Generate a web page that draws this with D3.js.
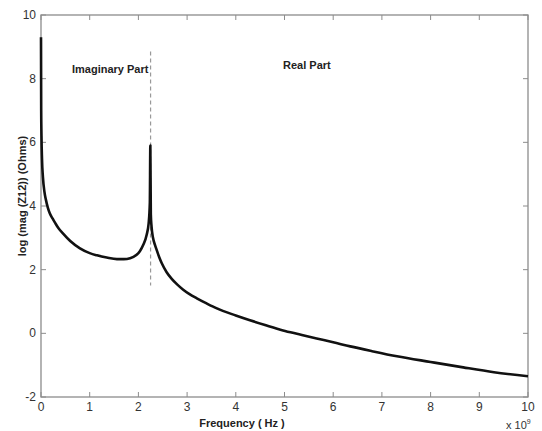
<!DOCTYPE html>
<html>
<head>
<meta charset="utf-8">
<script src="https://cdn.jsdelivr.net/npm/d3@7"></script>
<style>
  html, body { margin: 0; padding: 0; background: #fff; }
  svg { display: block; font-family: "Liberation Sans", Arial, sans-serif; }
</style>
</head>
<body>
<svg id="chart" width="542" height="431"></svg>
<script>
// frequency in units of 1e9 Hz, log magnitude of Z12
const freq = [0.0, 0.004, 0.01, 0.02, 0.04, 0.07, 0.1, 0.14, 0.18, 0.24, 0.29, 0.36, 0.45, 0.6, 0.8,
  1.0, 1.15, 1.35, 1.56, 1.7, 1.83, 1.95, 2.03, 2.1, 2.17, 2.21, 2.235, 2.245, 2.255, 2.27,
  2.3, 2.34, 2.38, 2.43, 2.48, 2.58, 2.68, 2.8, 2.92, 3.05, 3.2, 3.4, 3.6, 4.0, 4.29,
  4.6, 4.97, 5.3, 5.66, 6.0, 6.35, 6.8, 7.31, 8.0, 8.67, 9.3, 10.0];
const logMag = [9.3, 7.0, 6.2, 5.5, 4.9, 4.45, 4.2, 3.95, 3.77, 3.6, 3.47, 3.3, 3.14, 2.9, 2.67,
  2.52, 2.45, 2.38, 2.33, 2.33, 2.36, 2.45, 2.58, 2.78, 3.1, 3.45, 4.1, 5.9, 3.75, 3.35,
  3.0, 2.78, 2.6, 2.38, 2.2, 1.92, 1.72, 1.53, 1.37, 1.23, 1.1, 0.94, 0.79, 0.56, 0.41,
  0.26, 0.09, -0.03, -0.16, -0.28, -0.41, -0.56, -0.72, -0.9, -1.07, -1.22, -1.35];

const xTicks = [0, 1, 2, 3, 4, 5, 6, 7, 8, 9, 10];
const yTicks = [-2, 0, 2, 4, 6, 8, 10];

const divider = { f: 2.25, from: 1.5, to: 8.85 };

const W = 542, H = 431;
const M = { top: 15, right: 14, bottom: 34, left: 41 };

const svg = d3.select('#chart');
const axisColor = '#8c8c8c';
const textColor = '#333';

const x = d3.scaleLinear().domain([0, 10]).range([M.left, W - M.right]);
const y = d3.scaleLinear().domain([-2, 10]).range([H - M.bottom, M.top]);

// ── frame ──
svg.append('rect')
  .attr('x', x(0)).attr('y', y(10))
  .attr('width', x(10) - x(0)).attr('height', y(-2) - y(10))
  .attr('fill', 'none').attr('stroke', axisColor).attr('stroke-width', 1.3);

// ── ticks (inward on all sides) ──
const TL = 5;
const tickG = svg.append('g').attr('stroke', axisColor).attr('stroke-width', 1);
xTicks.forEach(t => {
  tickG.append('line').attr('x1', x(t)).attr('x2', x(t)).attr('y1', y(-2)).attr('y2', y(-2) - TL);
  tickG.append('line').attr('x1', x(t)).attr('x2', x(t)).attr('y1', y(10)).attr('y2', y(10) + TL);
});
yTicks.forEach(t => {
  tickG.append('line').attr('x1', x(0)).attr('x2', x(0) + TL).attr('y1', y(t)).attr('y2', y(t));
  tickG.append('line').attr('x1', x(10)).attr('x2', x(10) - TL).attr('y1', y(t)).attr('y2', y(t));
});

// ── tick labels ──
svg.append('g').selectAll('text').data(xTicks).join('text')
  .attr('x', d => x(d)).attr('y', y(-2) + 14)
  .attr('text-anchor', 'middle')
  .attr('font-size', 12).attr('fill', textColor)
  .text(d => d);

svg.append('g').selectAll('text').data(yTicks).join('text')
  .attr('x', x(0) - 5).attr('y', d => y(d) + 4)
  .attr('text-anchor', 'end')
  .attr('font-size', 12).attr('fill', textColor)
  .text(d => d);

// ── dashed divider ──
svg.append('line')
  .attr('x1', x(divider.f)).attr('x2', x(divider.f))
  .attr('y1', y(divider.to)).attr('y2', y(divider.from))
  .attr('stroke', '#999').attr('stroke-width', 1.2)
  .attr('stroke-dasharray', '4,3');

// ── curve ──
const pts = freq.map((f, i) => [f, logMag[i]]);
svg.append('path')
  .datum(pts)
  .attr('fill', 'none')
  .attr('stroke', '#111')
  .attr('stroke-width', 2.6)
  .attr('stroke-linejoin', 'round')
  .attr('d', d3.line().x(d => x(d[0])).y(d => y(d[1])).curve(d3.curveMonotoneX));

// ── annotations ──
svg.append('text')
  .attr('x', 72).attr('y', 73)
  .attr('font-size', 11).attr('font-weight', 'bold').attr('fill', '#222')
  .text('Imaginary Part');
svg.append('text')
  .attr('x', 283).attr('y', 69)
  .attr('font-size', 11).attr('font-weight', 'bold').attr('fill', '#222')
  .text('Real Part');

// ── axis titles ──
svg.append('text')
  .attr('x', 242).attr('y', 427)
  .attr('text-anchor', 'middle')
  .attr('font-size', 11).attr('font-weight', 'bold').attr('fill', '#222')
  .text('Frequency ( Hz )');

svg.append('text')
  .attr('transform', `translate(26, ${(y(10) + y(-2)) / 2 - 10}) rotate(-90)`)
  .attr('text-anchor', 'middle')
  .attr('font-size', 11).attr('font-weight', 'bold').attr('fill', '#222')
  .text('log (mag (Z12)) (Ohms)');

const mult = svg.append('text')
  .attr('x', 506).attr('y', 429)
  .attr('font-size', 11).attr('fill', textColor);
mult.append('tspan').text('x 10');
mult.append('tspan').attr('dy', -5).attr('font-size', 7).text('9');
</script>
</body>
</html>
